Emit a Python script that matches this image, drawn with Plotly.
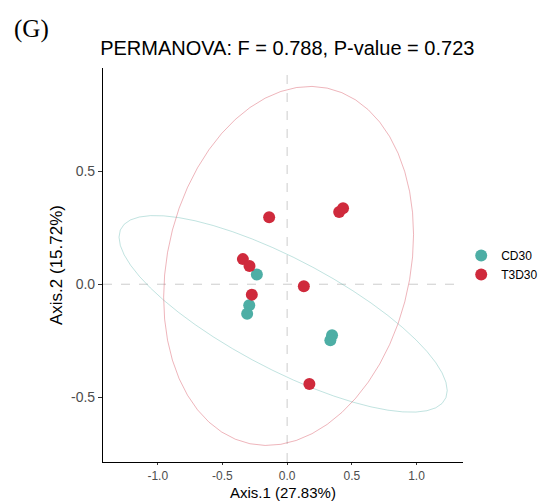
import numpy as np
import plotly.graph_objects as go

groups = ["CD30", "T3D30"]
colors = {"CD30": "#4DAEA5", "T3D30": "#CF2A3C"}

cd30_x = [-0.234, -0.293, -0.309, 0.347, 0.334]
cd30_y = [0.043, -0.093, -0.131, -0.226, -0.248]
t3d30_x = [-0.139, -0.342, -0.291, -0.273, 0.129, 0.172, 0.402, 0.432]
t3d30_y = [0.296, 0.111, 0.081, -0.046, -0.009, -0.441, 0.319, 0.336]

x_ticks = [-1.0, -0.5, 0.0, 0.5, 1.0]
y_ticks = [-0.5, 0.0, 0.5]

data = {"CD30": (cd30_x, cd30_y), "T3D30": (t3d30_x, t3d30_y)}


def ellipse(xs, ys, level=0.95, segments=51):
    pts = np.column_stack([xs, ys])
    n = len(pts)
    center = pts.mean(axis=0)
    cov = np.cov(pts.T)
    dfd = n - 1
    # F quantile for dfn = 2 (closed form)
    qf = dfd / 2.0 * ((1 - level) ** (-2.0 / dfd) - 1)
    radius = np.sqrt(2 * qf)
    chol = np.linalg.cholesky(cov).T
    t = np.linspace(0, 2 * np.pi, segments)
    circle = np.column_stack([np.cos(t), np.sin(t)])
    e = center + radius * circle @ chol
    return e[:, 0], e[:, 1]


def rgba(hexc, a):
    h = hexc.lstrip("#")
    r, g, b = int(h[0:2], 16), int(h[2:4], 16), int(h[4:6], 16)
    return f"rgba({r},{g},{b},{a})"


fig = go.Figure()

for g in groups:
    ex, ey = ellipse(*data[g])
    fig.add_trace(go.Scatter(x=ex, y=ey, mode="lines", line=dict(color=rgba(colors[g], 0.35), width=1),
                             showlegend=False, hoverinfo="skip"))

for g in groups:
    xs, ys = data[g]
    fig.add_trace(go.Scatter(x=xs, y=ys, mode="markers", name=g,
                             marker=dict(color=colors[g], size=12, line=dict(width=0))))

fig.add_hline(y=0, line=dict(color="#CCCCCC", width=1, dash="dash"), layer="below")
fig.add_vline(x=0, line=dict(color="#CCCCCC", width=1, dash="dash"), layer="below")

fig.update_layout(
    width=542, height=502,
    margin=dict(l=103, r=79, t=68, b=40, autoexpand=False),
    paper_bgcolor="white", plot_bgcolor="white",
    font=dict(family="Liberation Sans, Arial, sans-serif", color="black"),
    title=dict(text="PERMANOVA: F = 0.788, P-value = 0.723", x=0.53, xanchor="center",
               y=0.904, yanchor="middle", font=dict(size=20, color="black")),
    legend=dict(x=0.995, y=0.50, xanchor="left", yanchor="middle", font=dict(size=12),
                itemsizing="constant", tracegroupgap=0, bgcolor="rgba(0,0,0,0)"),
    xaxis=dict(range=[-1.423, 1.359], tickvals=x_ticks, ticktext=[f"{v:.1f}" for v in x_ticks],
               showgrid=False, zeroline=False, showline=True, linecolor="black", linewidth=1.2,
               ticks="outside", ticklen=2, tickcolor="#333333", tickfont=dict(size=12, color="#4D4D4D")),
    yaxis=dict(range=[-0.786, 0.956], tickvals=y_ticks, ticktext=[f"{v:.1f}" for v in y_ticks],
               showgrid=False, zeroline=False, showline=True, linecolor="black", linewidth=1.2,
               ticks="outside", ticklen=4, tickcolor="#333333", tickfont=dict(size=14, color="#4D4D4D"),
               title=dict(text="Axis.2 (15.72%)", font=dict(size=17), standoff=4)),
)

fig.add_annotation(text="Axis.1 (27.83%)", xref="paper", yref="paper", x=0.501, y=-0.078,
                   xanchor="center", yanchor="middle", showarrow=False,
                   font=dict(size=15, color="black"))

fig.add_annotation(text="(G)", xref="paper", yref="paper", x=-0.253, y=1.10, xanchor="left",
                   yanchor="middle", showarrow=False,
                   font=dict(family="Liberation Serif, Times New Roman, serif", size=25, color="black"))

fig.write_html("out.html")
